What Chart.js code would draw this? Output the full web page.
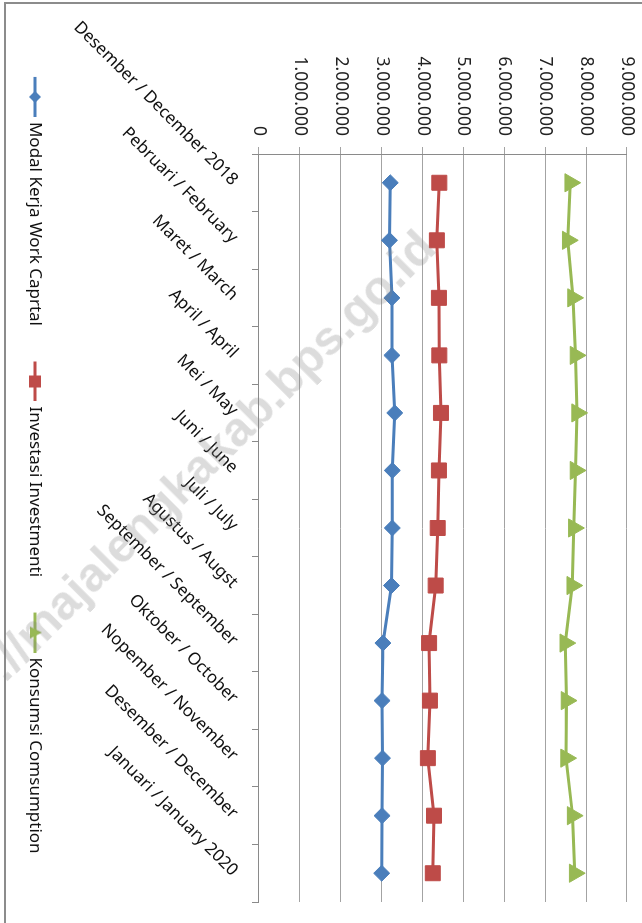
<!DOCTYPE html>
<html>
<head>
<meta charset="utf-8">
<script src="https://cdn.jsdelivr.net/npm/chart.js@4.4.1/dist/chart.umd.min.js"></script>
<style>
  html, body { margin: 0; padding: 0; background: #fff; overflow: hidden; }
  body { width: 642px; height: 923px; position: relative; }
  /* the chart is drawn landscape and turned a quarter clockwise, like the source */
  #wrap { position: absolute; left: 0; top: 0; width: 923px; height: 642px;
          transform-origin: 0 0; transform: translate(642px, 0) rotate(90deg); }
  #mark { position: absolute; left: -71px; top: 713px; white-space: nowrap;
          font: bold 48px "Liberation Sans", Arial, sans-serif; line-height: 48px;
          color: rgba(128, 128, 128, 0.28); transform-origin: 0 50%;
          transform: rotate(-45deg); pointer-events: none; }
</style>
</head>
<body>
<div id="wrap"><canvas id="chart" width="923" height="642"></canvas></div>
<div id="mark">http://majalengkakab.bps.go.id</div>
<script>
const categories = [
    'Desember / December 2018', 'Pebruari / February', 'Maret / March', 'April / April',
    'Mei / May', 'Juni / June', 'Juli / July', 'Agustus / Augst', 'September / September',
    'Oktober / October', 'Nopember / November', 'Desember / December', 'Januari / January 2020'
];
const seriesNames = ['Modal Kerja Work Caprtal', 'Investasi Investmenti', 'Konsumsi Comsumption'];
const modalKerja = [3210000, 3190000, 3250000, 3250000, 3320000, 3260000, 3260000, 3240000, 3030000, 3010000, 3020000, 3010000, 3000000];
const investasi = [4410000, 4350000, 4400000, 4410000, 4450000, 4400000, 4370000, 4320000, 4160000, 4180000, 4130000, 4280000, 4250000];
const konsumsi = [7610000, 7550000, 7680000, 7740000, 7780000, 7740000, 7700000, 7660000, 7490000, 7520000, 7510000, 7670000, 7720000];
const valueMin = 0;
const valueMax = 9000000;
const valueStep = 1000000;

const colors = ['#4a7ebb', '#be4b48', '#98b954'];
const styles = ['rectRot', 'rect', 'triangle'];
const radii = [8, 10.6, 10.5];

const fontFamily = '"Noto Sans", "Open Sans", sans-serif';
const gridColor = '#a3a3a3';
const axisColor = '#8a8a8a';

// legend icon: short line with the marker in the middle (Excel style)
function legendIcon(color, style) {
    const c = document.createElement('canvas');
    c.width = 72; c.height = 22;
    const g = c.getContext('2d');
    const cx = 52, cy = 11;
    g.strokeStyle = color; g.fillStyle = color; g.lineWidth = 3;
    g.beginPath(); g.moveTo(32, cy); g.lineTo(72, cy); g.stroke();
    g.beginPath();
    if (style === 'rectRot') {
        g.moveTo(cx, cy - 6); g.lineTo(cx + 6, cy); g.lineTo(cx, cy + 6); g.lineTo(cx - 6, cy);
    } else if (style === 'rect') {
        g.rect(cx - 6, cy - 6, 12, 12);
    } else {
        g.moveTo(cx, cy - 7); g.lineTo(cx + 6, cy + 5); g.lineTo(cx - 6, cy + 5);
    }
    g.closePath(); g.fill();
    return c;
}
const legendIcons = colors.map((c, i) => legendIcon(c, styles[i]));

function dotted(v) {
    return String(v).replace(/\B(?=(\d{3})+(?!\d))/g, '.');
}

// outer frame of the original picture (only two sides survive the crop)
const framePlugin = {
    id: 'frame',
    afterDraw(chart) {
        const ctx = chart.ctx;
        ctx.save();
        ctx.strokeStyle = '#8c8c8c';
        ctx.lineWidth = 2;
        ctx.beginPath();
        ctx.moveTo(3, 0); ctx.lineTo(3, 637);
        ctx.lineTo(923, 637);
        ctx.stroke();
        ctx.restore();
    }
};

const seriesData = [modalKerja, investasi, konsumsi];

new Chart(document.getElementById('chart'), {
    type: 'line',
    data: {
        labels: categories,
        datasets: seriesData.map((d, i) => ({
            label: seriesNames[i],
            data: d,
            borderColor: colors[i],
            backgroundColor: colors[i],
            borderWidth: 3,
            pointStyle: styles[i],
            pointRadius: radii[i],
            pointBorderWidth: 1,
            pointBackgroundColor: colors[i],
            pointBorderColor: colors[i],
            tension: 0,
            fill: false
        }))
    },
    options: {
        responsive: false,
        animation: false,
        layout: { padding: { left: 0, right: 21, top: 15, bottom: 16.5 } },
        plugins: {
            tooltip: { enabled: false },
            legend: {
                position: 'bottom',
                labels: {
                    usePointStyle: true,
                    pointStyleWidth: 65,
                    padding: 7,
                    color: '#111',
                    font: { family: fontFamily, size: 17 },
                    generateLabels(chart) {
                        const items = Chart.defaults.plugins.legend.labels.generateLabels(chart);
                        items.forEach(it => { it.pointStyle = legendIcons[it.datasetIndex]; });
                        return items;
                    }
                }
            }
        },
        scales: {
            x: {
                offset: true,
                grid: { offset: true, drawOnChartArea: false, drawTicks: true, tickLength: 7, color: axisColor },
                border: { display: true, color: axisColor, width: 1 },
                ticks: {
                    autoSkip: false, minRotation: 45, maxRotation: 45, padding: 10,
                    color: '#111', font: { family: fontFamily, size: 17 }
                },
                afterFit(scale) { scale.height = 208.5; }
            },
            y: {
                min: valueMin,
                max: valueMax,
                grid: { color: gridColor, tickLength: 7 },
                border: { display: true, color: axisColor, width: 1 },
                ticks: {
                    stepSize: valueStep, padding: 11, color: '#222',
                    font: { family: fontFamily, size: 17.5 },
                    callback: v => dotted(v)
                },
                afterFit(scale) {
                    scale.width = 154;
                    // keep the plot top where the source has it
                    scale.paddingTop = 0;
                    scale.paddingBottom = 0;
                }
            }
        }
    },
    plugins: [framePlugin]
});
</script>
</body>
</html>
